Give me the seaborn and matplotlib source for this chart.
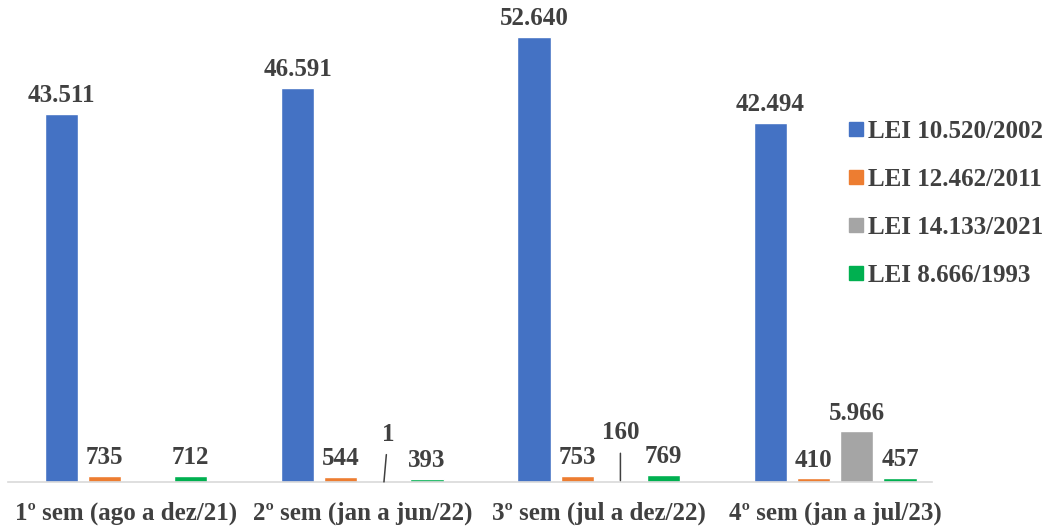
import pandas as pd
import matplotlib.pyplot as plt
import seaborn as sns
from matplotlib.lines import Line2D

# Chart data
periods = ['1º sem (ago a dez/21)', '2º sem (jan a jun/22)',
           '3º sem (jul a dez/22)', '4º sem (jan a jul/23)']
laws = ['LEI 10.520/2002', 'LEI 12.462/2011', 'LEI 14.133/2021', 'LEI 8.666/1993']
lei_10520 = [43511, 46591, 52640, 42494]
lei_12462 = [735, 544, 753, 410]
lei_14133 = [None, 1, 160, 5966]   # no bar in the first semester
lei_8666 = [712, 393, 769, 457]
colors = ['#4472C4', '#ED7D31', '#A5A5A5', '#00B050']

rows = []
for law, vals in zip(laws, [lei_10520, lei_12462, lei_14133, lei_8666]):
    for p, v in zip(periods, vals):
        if v is not None:
            rows.append({'periodo': p, 'lei': law, 'qtd': v})
df = pd.DataFrame(rows)

sns.set_style('white')
plt.rcParams['font.family'] = ['Liberation Serif', 'DejaVu Serif']
txt_color = '#404040'
fs = 18

fig = plt.figure(figsize=(10.51, 5.29), dpi=100)
ax = fig.add_axes([0.008, 0.089, 0.879, 0.879])

sns.barplot(data=df, x='periodo', y='qtd', hue='lei', order=periods,
            hue_order=laws, palette=colors, width=0.73, gap=0.23,
            errorbar=None, ax=ax, legend=False, saturation=1)

ax.set_ylim(0, 55000)
ax.set_xlim(-0.497, 3.41)
ax.set_xlabel('')
ax.set_ylabel('')
ax.set_yticks([])
for s in ['top', 'right', 'left']:
    ax.spines[s].set_visible(False)
ax.spines['bottom'].set_color('#D9D9D9')
ax.spines['bottom'].set_linewidth(1.2)
ax.tick_params(axis='x', length=0, pad=14, labelsize=fs, labelcolor=txt_color)
for t in ax.get_xticklabels():
    t.set_fontweight('bold')

def fmt(v):
    return f'{int(v):,}'.replace(',', '.')

# value labels; tiny bars get a label lifted up with a leader line
for cont in ax.containers:
    for bar in cont:
        h = bar.get_height()
        if pd.isna(h):
            continue
        x = bar.get_x() + bar.get_width() / 2
        if h < 300:
            dx = 3 if h < 10 else 0
            ax.annotate(fmt(h), xy=(x, h), xytext=(dx, 26), textcoords='offset points',
                        ha='center', va='bottom', fontsize=fs, color=txt_color,
                        fontweight='bold',
                        arrowprops=dict(arrowstyle='-', color='#404040', lw=1.1,
                                        shrinkA=4, shrinkB=0))
        else:
            ax.annotate(fmt(h), xy=(x, h), xytext=(0, 5), textcoords='offset points',
                        ha='center', va='bottom', fontsize=fs, color=txt_color,
                        fontweight='bold')

handles = [Line2D([], [], marker='s', linestyle='', markersize=10,
                  markerfacecolor=c, markeredgecolor=c) for c in colors]
leg = fig.legend(handles, laws, loc='upper left', bbox_to_anchor=(0.793, 0.792),
                 frameon=False, fontsize=fs, labelspacing=1.0, handletextpad=0.0,
                 handlelength=1.0, labelcolor=txt_color, borderaxespad=0)
for t in leg.get_texts():
    t.set_fontweight('bold')

fig.savefig('out.png', dpi=100)
